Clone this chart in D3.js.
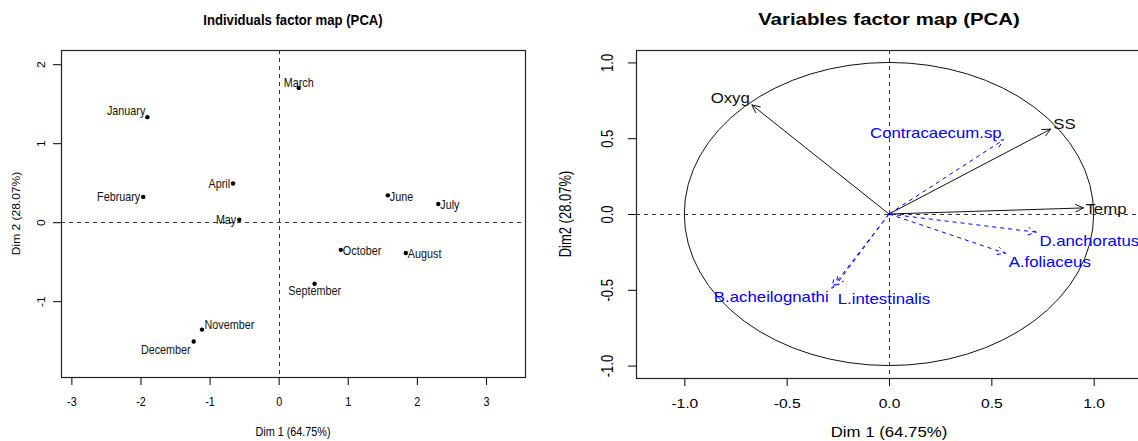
<!DOCTYPE html>
<html>
<head>
<meta charset="utf-8">
<script src="https://cdn.jsdelivr.net/npm/d3@7"></script>
<style>
body { margin: 0; background: #fff; }
svg { display: block; font-family: "Liberation Sans", Arial, sans-serif; }
</style>
</head>
<body>
<svg id="chart" width="1138" height="441"></svg>
<script>
// individuals (months)
var months = ['January','February','March','April','May','June','July','August','September','October','November','December'];
var month_dim1 = [-1.90, -1.96, 0.29, -0.66, -0.57, 1.58, 2.31, 1.84, 0.52, 0.90, -1.11, -1.23];
var month_dim2 = [1.33, 0.32, 1.70, 0.49, 0.03, 0.34, 0.23, -0.39, -0.78, -0.35, -1.36, -1.51];
var month_label_pos = ['upleft','left','above','left','left','right','right','right','below','right','upright','downleft'];

// active variables
var variables = ['Oxyg','SS','Temp'];
var var_dim1 = [-0.67, 0.79, 0.95];
var var_dim2 = [0.72, 0.56, 0.04];
var var_label_pos = ['upleft','upright','right'];

// supplementary variables
var sup_variables = ['Contracaecum.sp','D.anchoratus','A.foliaceus','B.acheilognathi','L.intestinalis'];
var sup_dim1 = [0.56, 0.72, 0.57, -0.28, -0.26];
var sup_dim2 = [0.49, -0.12, -0.26, -0.49, -0.47];
var sup_label_pos = ['upleft','downright','downright','downleft','lowright'];

var ind_ticks_x = [-3, -2, -1, 0, 1, 2, 3];
var ind_ticks_y = [-1, 0, 1, 2];
var var_ticks = [-1, -0.5, 0, 0.5, 1];

// anchor, dx, dy for each label position code
var label_offsets = {
    upleft: ['end', -2, -6.5], left: ['end', -3, 0], above: ['middle', 0, -5], below: ['middle', 0, 7],
    right: ['start', 2, 1], upright: ['start', 2.5, -5], downleft: ['end', -3, 8.5],
    downright: ['start', 3, 9], lowright: ['start', 2, 14]
};

function FactorMap(){}

/**************************************************************************************/

FactorMap.prototype.setup = function(svg, box, x_lim, y_lim, sx){
    this.svg = svg;
    this.box = box;
    this.sx = sx;
    this.x = d3.scaleLinear().domain(x_lim).range([box.left, box.right]);
    this.y = d3.scaleLinear().domain(y_lim).range([box.bottom, box.top]);
    this.g = svg.append('g');
}

/**************************************************************************************/

FactorMap.prototype.text = function(x, y, str, anchor, size, color, weight){
    return this.g.append('text')
        .attr('transform', 'translate(' +x+ ',' +y+ ') scale(' +this.sx+ ',1)')
        .attr('text-anchor', anchor)
        .attr('dy', '0.35em')
        .style('font-size', size+ 'px')
        .style('font-weight', weight || 'normal')
        .style('fill', color)
        .text(str);
}

FactorMap.prototype.title = function(str, size){
    var cx = (this.box.left + this.box.right)/2;
    this.text(cx, 25, str, 'middle', size, '#000', 'bold').attr('dy', null);
}

FactorMap.prototype.axis_titles = function(x_str, y_str, size, y_size, y_lab_x){
    var cx = (this.box.left + this.box.right)/2;
    var cy = (this.box.top + this.box.bottom)/2;
    this.text(cx, 432, x_str, 'middle', size, '#000');
    this.g.append('text')
        .attr('transform', 'translate(' +y_lab_x+ ',' +cy+ ') scale(' +this.sx+ ',1) rotate(-90)')
        .attr('text-anchor', 'middle')
        .attr('dy', '0.35em')
        .style('font-size', y_size+ 'px')
        .text(y_str);
}

/**************************************************************************************/

FactorMap.prototype.axes = function(ticks_x, ticks_y, fmt, size, y_lab_off){
    var sx = this.sx;
    var ax = this.g.append('g')
        .attr('transform', 'translate(0,' +this.box.bottom+ ')')
        .call(d3.axisBottom(this.x).tickValues(ticks_x).tickFormat(fmt).tickSize(8).tickSizeOuter(0))
        .attr('font-family', null).attr('font-size', null);
    ax.select('.domain').remove();
    ax.selectAll('.tick text')
        .attr('y', 0).attr('dy', '0.35em')
        .attr('transform', 'translate(0,25) scale(' +sx+ ',1)')
        .style('font-size', size+ 'px');

    var ay = this.g.append('g')
        .attr('transform', 'translate(' +this.box.left+ ',0)')
        .call(d3.axisLeft(this.y).tickValues(ticks_y).tickFormat(fmt).tickSize(8).tickSizeOuter(0))
        .attr('font-family', null).attr('font-size', null);
    ay.select('.domain').remove();
    ay.selectAll('.tick text')
        .attr('x', 0).attr('dy', '0.35em').attr('text-anchor', 'middle')
        .attr('transform', 'translate(' +(-y_lab_off)+ ',0) scale(' +sx+ ',1) rotate(-90)')
        .style('font-size', size+ 'px');
}

FactorMap.prototype.frame = function(){
    var b = this.box;
    this.g.append('rect')
        .attr('x', b.left + 0.5).attr('y', b.top + 0.5)
        .attr('width', b.right - b.left).attr('height', b.bottom - b.top)
        .style('fill', 'none').style('stroke', '#222').style('stroke-width', 1.2);

    // dashed lines through the origin
    var x0 = Math.round(this.x(0)) + 0.5, y0 = Math.round(this.y(0)) + 0.5;
    this.g.append('path')
        .attr('d', 'M' +b.left+ ',' +y0+ 'H' +b.right+ 'M' +x0+ ',' +b.top+ 'V' +b.bottom)
        .style('fill', 'none').style('stroke', '#333').style('stroke-dasharray', '4,4');
}

/**************************************************************************************/

FactorMap.prototype.points = function(dim1, dim2, names, pos, size){
    var self = this;
    this.g.selectAll('circle.ind')
        .data(names)
        .enter().append('circle')
        .attr('class', 'ind')
        .attr('cx', function(d, i){ return self.x(dim1[i]); })
        .attr('cy', function(d, i){ return self.y(dim2[i]); })
        .attr('r', 2.2)
        .style('fill', '#000');

    names.forEach(function(n, i){
        var o = label_offsets[pos[i]];
        self.text(self.x(dim1[i]) + o[1], self.y(dim2[i]) + o[2], n, o[0], size, '#111');
    });
}

FactorMap.prototype.circle = function(){
    this.g.append('ellipse')
        .attr('cx', this.x(0)).attr('cy', this.y(0))
        .attr('rx', this.x(1) - this.x(0)).attr('ry', this.y(0) - this.y(1))
        .style('fill', 'none').style('stroke', '#111');
}

FactorMap.prototype.arrows = function(dim1, dim2, names, pos, color, dash, size){
    var self = this;
    var x0 = this.x(0), y0 = this.y(0);
    var h = 9, t = 25*Math.PI/180;
    names.forEach(function(n, i){
        var x1 = self.x(dim1[i]), y1 = self.y(dim2[i]);
        var a = Math.atan2(y1 - y0, x1 - x0);
        var d = 'M' +x0+ ',' +y0+ 'L' +x1+ ',' +y1
            + 'M' +(x1 - h*Math.cos(a - t))+ ',' +(y1 - h*Math.sin(a - t))+ 'L' +x1+ ',' +y1
            + 'L' +(x1 - h*Math.cos(a + t))+ ',' +(y1 - h*Math.sin(a + t));
        self.g.append('path').attr('d', d)
            .style('fill', 'none').style('stroke', color).style('stroke-dasharray', dash);
        var o = label_offsets[pos[i]];
        self.text(x1 + o[1], y1 + o[2], n, o[0], size, color);
    });
}

/**************************************************************************************/

var svg = d3.select('#chart');
var fmt_int = function(d){ return String(d); };
var fmt_dec = function(d){ return d.toFixed(1); };

var ind = new FactorMap();
ind.setup(svg, { left: 61, right: 525, top: 50, bottom: 377 }, [-3.15, 3.565], [-1.96, 2.18], 0.9);
ind.frame();
ind.axes(ind_ticks_x, ind_ticks_y, fmt_int, 12, 19.5);
ind.points(month_dim1, month_dim2, months, month_label_pos, 12);
ind.title('Individuals factor map (PCA)', 14.6);
ind.axis_titles('Dim 1 (64.75%)', 'Dim 2 (28.07%)', 12, 12, 16);

var vars = new FactorMap();
vars.setup(svg, { left: 636, right: 1142, top: 50, bottom: 378 }, [-1.236, 1.236], [-1.082, 1.082], 1.2);
vars.frame();
vars.axes(var_ticks, var_ticks, fmt_dec, 13, 28.5);
vars.circle();
vars.arrows(var_dim1, var_dim2, variables, var_label_pos, '#111', null, 14);
vars.arrows(sup_dim1, sup_dim2, sup_variables, sup_label_pos, '#0000ff', '4,4', 14);
vars.title('Variables factor map (PCA)', 17);
vars.axis_titles('Dim 1 (64.75%)', 'Dim2 (28.07%)', 14, 13, 566);
</script>
</body>
</html>
